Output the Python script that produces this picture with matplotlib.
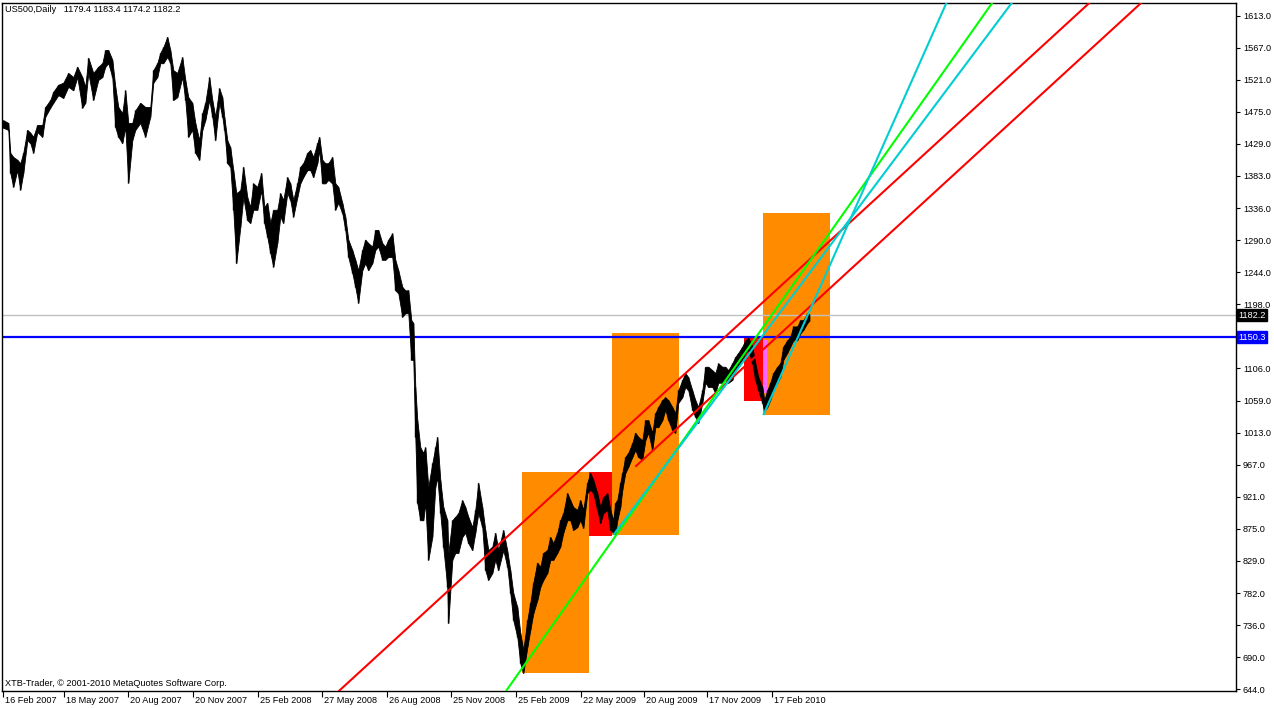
import matplotlib
matplotlib.use("Agg")
import matplotlib.pyplot as plt
from matplotlib.patches import Rectangle
from matplotlib import transforms

# ---------------- data ----------------
title = "US500,Daily   1179.4 1183.4 1174.2 1182.2"
footer = "XTB-Trader, \u00a9 2001-2010 MetaQuotes Software Corp."

date_labels = ["16 Feb 2007", "18 May 2007", "20 Aug 2007", "20 Nov 2007", "25 Feb 2008",
               "27 May 2008", "26 Aug 2008", "25 Nov 2008", "25 Feb 2009", "22 May 2009",
               "20 Aug 2009", "17 Nov 2009", "17 Feb 2010"]
date_bars = [0, 61, 125, 190, 255, 319, 384, 448, 513, 578, 641, 704, 769]

price_ticks = [644.0, 690.0, 736.0, 782.0, 829.0, 875.0, 921.0, 967.0, 1013.0, 1059.0, 1106.0,
               1198.0, 1244.0, 1290.0, 1336.0, 1383.0, 1429.0, 1475.0, 1521.0, 1567.0, 1613.0]

# bar number (trading days since 16 Feb 2007), sampled
day = [0, 5, 7, 10, 14, 17, 20, 24, 27, 30,
       34, 39, 42, 47, 50, 55, 60, 65, 70, 74,
       79, 82, 85, 90, 95, 99, 102, 105, 109, 112,
       115, 119, 122, 125, 129, 132, 137, 142, 147, 150,
       154, 157, 160, 164, 167, 170, 174, 179, 182, 185,
       189, 192, 196, 199, 202, 206, 209, 212, 216, 219,
       221, 224, 227, 230, 233, 237, 240, 244, 247, 250,
       254, 258, 261, 264, 267, 270, 274, 277, 280, 284,
       287, 290, 294, 297, 300, 304, 307, 310, 314, 316,
       319, 322, 325, 329, 332, 335, 339, 342, 345, 349,
       352, 355, 359, 362, 365, 369, 372, 375, 379, 382,
       385, 389, 392, 395, 399, 402, 405, 408, 410, 412,
       414, 417, 420, 422, 425, 429, 432, 434, 437, 440,
       444, 445, 449, 452, 455, 459, 462, 465, 469, 472,
       475, 479, 482, 485, 489, 492, 495, 500, 504, 507,
       510, 514, 517, 520, 524, 527, 530, 534, 537, 540,
       544, 547, 550, 554, 557, 560, 564, 567, 570, 574,
       577, 580, 584, 587, 590, 594, 597, 600, 604, 607,
       610, 612, 614, 617, 619, 622, 625, 629, 632, 635,
       639, 642, 645, 649, 652, 655, 659, 662, 665, 669,
       672, 675, 679, 682, 685, 689, 692, 695, 699, 702,
       705, 709, 712, 715, 719, 722, 725, 729, 732, 735,
       739, 742, 745, 749, 752, 755, 759, 761, 764, 767,
       770, 774, 777, 780, 784, 787, 790, 794, 797, 800,
       804, 806]

high = [1463, 1459, 1416, 1410, 1406, 1401, 1416, 1449, 1445, 1439,
        1456, 1456, 1482, 1492, 1504, 1514, 1517, 1531, 1525, 1540,
        1525, 1511, 1553, 1531, 1540, 1545, 1564, 1564, 1550, 1511,
        1482, 1473, 1506, 1459, 1459, 1477, 1488, 1482, 1482, 1535,
        1545, 1560, 1568, 1583, 1564, 1535, 1531, 1554, 1521, 1496,
        1488, 1459, 1434, 1473, 1488, 1525, 1492, 1468, 1509, 1496,
        1468, 1434, 1424, 1391, 1358, 1362, 1396, 1352, 1338, 1372,
        1367, 1387, 1338, 1344, 1315, 1334, 1334, 1358, 1348, 1381,
        1372, 1348, 1372, 1396, 1401, 1416, 1420, 1410, 1430, 1439,
        1406, 1401, 1401, 1410, 1372, 1367, 1344, 1324, 1291, 1276,
        1262, 1247, 1276, 1291, 1286, 1281, 1305, 1305, 1286, 1281,
        1291, 1300, 1262, 1247, 1223, 1218, 1218, 1175, 1171, 1079,
        1031, 992, 984, 992, 935, 969, 992, 1007, 945, 906,
        887, 840, 887, 892, 897, 916, 906, 892, 877, 902,
        941, 906, 873, 844, 849, 869, 844, 873, 843, 815,
        782, 762, 725, 700, 743, 768, 797, 826, 820, 840,
        844, 863, 854, 869, 887, 897, 926, 916, 906, 902,
        916, 902, 941, 955, 945, 926, 906, 920, 926, 902,
        887, 912, 916, 941, 955, 978, 984, 998, 1013, 1007,
        1002, 1031, 1031, 1013, 1041, 1050, 1060, 1064, 1060, 1050,
        1041, 1074, 1089, 1099, 1093, 1074, 1060, 1050, 1074, 1108,
        1108, 1103, 1099, 1113, 1108, 1108, 1103, 1113, 1122, 1128,
        1137, 1146, 1150, 1137, 1113, 1093, 1079, 1060, 1074, 1085,
        1099, 1108, 1113, 1137, 1146, 1151, 1166, 1166, 1175, 1175,
        1185, 1183.4]

low = [1452, 1449, 1387, 1367, 1391, 1363, 1387, 1434, 1430, 1416,
       1446, 1439, 1468, 1481, 1488, 1499, 1495, 1511, 1506, 1525,
       1481, 1488, 1531, 1492, 1521, 1525, 1540, 1545, 1525, 1453,
       1439, 1430, 1453, 1373, 1434, 1449, 1459, 1439, 1468, 1517,
       1525, 1545, 1545, 1554, 1545, 1492, 1496, 1525, 1492, 1439,
       1449, 1416, 1406, 1449, 1463, 1492, 1468, 1434, 1488, 1468,
       1449, 1401, 1396, 1334, 1257, 1309, 1352, 1319, 1315, 1334,
       1334, 1362, 1315, 1295, 1272, 1252, 1286, 1324, 1315, 1358,
       1348, 1324, 1352, 1372, 1381, 1391, 1391, 1381, 1401, 1420,
       1372, 1372, 1377, 1372, 1334, 1344, 1329, 1305, 1266, 1243,
       1223, 1200, 1247, 1257, 1247, 1257, 1276, 1281, 1262, 1262,
       1266, 1266, 1218, 1214, 1180, 1185, 1185, 1118, 1118, 1007,
       912, 887, 887, 912, 830, 863, 935, 949, 897, 848,
       791, 739, 830, 840, 840, 863, 869, 854, 844, 869,
       897, 877, 815, 801, 811, 830, 815, 844, 820, 782,
       743, 719, 681, 667, 704, 729, 753, 772, 791, 801,
       811, 830, 830, 840, 849, 869, 887, 887, 873, 877,
       887, 876, 926, 931, 926, 902, 883, 897, 902, 873,
       869, 867, 887, 906, 931, 955, 964, 978, 988, 978,
       974, 1002, 1013, 988, 1021, 1021, 1031, 1046, 1031, 1017,
       1013, 1056, 1064, 1079, 1074, 1046, 1036, 1027, 1056, 1085,
       1079, 1079, 1070, 1085, 1085, 1089, 1085, 1089, 1103, 1108,
       1118, 1128, 1132, 1113, 1089, 1074, 1056, 1044, 1050, 1060,
       1074, 1085, 1093, 1118, 1128, 1137, 1146, 1146, 1156, 1161,
       1171, 1174.2]

last_close = 1182.2
hline_level = 1150.3

# rectangles: (start bar, end bar, top price, bottom price)
orange_boxes = [(519, 586, 956.5, 667.0),
                (609, 676, 1157.0, 866.0),
                (760, 827, 1329.0, 1038.0)]
red_boxes = [(586, 609, 956.5, 865.0),
             (741, 760, 1149.4, 1058.0)]
pink_boxes = [(760, 764, 1147.0, 1070.0)]

# trend lines: anchor points (bar, price), ray flag
red_lines = [((377, 695.8), (677, 1091.8), False),
             ((632, 964.1), (817, 1208.3), True)]
green_lines = [((519, 674.3), (779, 1204.1), False)]
cyan_lines = [((610, 865.7), (787, 1206.0), True),
              ((760, 1038.5), (810, 1200.5), True)]

# ---------------- figure ----------------
W, H = 1274, 708
fig = plt.figure(figsize=(W / 100, H / 100), dpi=100)
fig.patch.set_facecolor("white")
L, R, T, B = 2, 1236, 3, 690.7
ax = fig.add_axes([L / W, (H - B) / H, (R - L) / W, (B - T) / H])
ax.set_xlim(-1.3, 1232.7)
ax.set_ylim(641.6, 1631.7)
ax.set_facecolor("white")

FONT = "Liberation Sans"
FS = 6.6

for (x0, x1, top, bot) in orange_boxes:
    ax.add_patch(Rectangle((x0, bot), x1 - x0, top - bot, facecolor="#FF8C00", edgecolor="none", zorder=1))
for (x0, x1, top, bot) in red_boxes:
    ax.add_patch(Rectangle((x0, bot), x1 - x0, top - bot, facecolor="#FF0000", edgecolor="none", zorder=1))
for (x0, x1, top, bot) in pink_boxes:
    ax.add_patch(Rectangle((x0, bot), x1 - x0, top - bot, facecolor="#FF66FF", edgecolor="none", zorder=1))

ax.axhline(last_close, color="#C0C0C0", lw=1.0, zorder=2)
ax.axhline(hline_level, color="#0000FF", lw=1.6, zorder=2)

# price bars
ax.fill_between(day, low, high, color="black", lw=0.6, edgecolor="black", zorder=3)
ax.vlines(day, low, high, color="black", lw=1.0, zorder=3)


def draw_line(p1, p2, ray, color):
    if ray:
        x0, y0 = p1
        x1, y1 = p2
        s = (y1 - y0) / (x1 - x0)
        xe = 1300
        ax.plot([x0, xe], [y0, y0 + s * (xe - x0)], color=color, lw=1.5, zorder=4,
                solid_capstyle="butt")
    else:
        ax.axline(p1, p2, color=color, lw=1.5, zorder=4)


for p1, p2, ray in red_lines:
    draw_line(p1, p2, ray, "#FF0000")
for p1, p2, ray in green_lines:
    draw_line(p1, p2, ray, "#00FF00")
for p1, p2, ray in cyan_lines:
    draw_line(p1, p2, ray, "#00CED1")

# axes styling
for sp in ax.spines.values():
    sp.set_color("black")
    sp.set_linewidth(1.0)
ax.yaxis.tick_right()
ax.set_yticks(price_ticks)
ax.set_yticklabels([f"{v:.1f}" for v in price_ticks], fontsize=FS, family=FONT)
ax.tick_params(axis="y", direction="out", length=3, width=0.8, pad=2, colors="black")
ax.set_xticks(date_bars)
ax.set_xticklabels([])
ax.tick_params(axis="x", direction="out", length=4, width=0.8)
ax.tick_params(axis="both", which="both", left=False, top=False)

btrans = transforms.blended_transform_factory(ax.transData, ax.transAxes)
for b, lab in zip(date_bars, date_labels):
    t = transforms.offset_copy(btrans, fig=fig, x=2, y=-5, units="dots")
    ax.text(b, 0, lab, transform=t, ha="left", va="top", fontsize=FS, family=FONT, clip_on=False)

# right price labels
rtrans = transforms.blended_transform_factory(ax.transAxes, ax.transData)
for lev, bg in ((last_close, "black"), (hline_level, "#0000FF")):
    ax.text(1.0018, lev, f"{lev:.1f}", transform=rtrans, ha="left", va="center", fontsize=FS,
            family=FONT, color="white", clip_on=False, zorder=10,
            bbox=dict(boxstyle="square,pad=0.15", facecolor=bg, edgecolor=bg))

fig.text(5 / W, 1 - 10 / H, title, ha="left", va="center", fontsize=FS, family=FONT)
fig.text(5 / W, 1 - 683 / H, footer, ha="left", va="center", fontsize=FS, family=FONT)

fig.savefig("out.png", dpi=100, facecolor="white")
